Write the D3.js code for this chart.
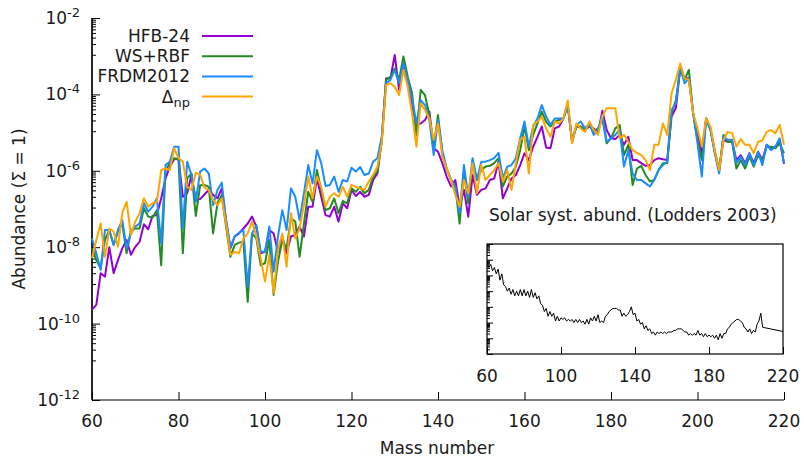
<!DOCTYPE html>
<html><head><meta charset="utf-8">
<script src="https://cdn.jsdelivr.net/npm/d3@7"></script>
<style>
body{margin:0;background:#fff}
text{font-family:"DejaVu Sans",sans-serif;fill:#1a1a1a}
</style>
</head><body>
<svg id="chart" width="804" height="458"></svg>
<script>
// ---------- DATA (log10 of abundance, mass numbers 60..220) ----------
const massNumbers = d3.range(60, 221);
const seriesNames = ["HFB-24", "WS+RBF", "FRDM2012", "Δnp"];
const hfb24Exp = [
-9.63,-9.51,-8.68,-8.77,-8.00,-8.68,-8.34,-8.03,-7.81,-8.20,
-7.99,-7.86,-7.40,-7.53,-7.18,-7.16,-6.72,-6.20,-5.89,-5.70,
-5.67,-6.68,-6.59,-6.11,-6.76,-6.74,-6.62,-6.50,-6.63,-6.72,
-6.46,-7.29,-8.03,-7.72,-7.64,-7.51,-7.38,-7.20,-7.46,-8.16,
-8.12,-7.55,-7.64,-8.12,-7.72,-8.16,-7.72,-7.68,-7.46,-7.72,
-6.94,-6.94,-6.20,-6.68,-7.16,-7.20,-6.94,-7.33,-6.85,-6.98,
-6.50,-6.66,-6.55,-6.68,-6.63,-6.24,-6.07,-5.19,-3.58,-3.58,
-2.97,-3.88,-3.23,-3.67,-4.28,-4.80,-4.76,-4.67,-4.45,-5.40,
-5.50,-5.80,-6.15,-6.41,-6.24,-6.94,-6.50,-7.20,-6.11,-6.63,
-6.50,-6.46,-6.24,-6.20,-5.76,-6.72,-6.46,-6.20,-6.11,-5.85,
-5.54,-5.72,-5.37,-5.11,-4.84,-5.39,-5.41,-4.89,-4.84,-4.63,
-4.28,-5.19,-4.84,-4.84,-4.93,-4.84,-4.89,-5.02,-4.43,-4.93,
-5.15,-5.17,-5.06,-5.32,-5.11,-5.72,-5.72,-5.80,-5.87,-5.85,
-5.72,-5.67,-5.70,-5.72,-4.58,-4.36,-3.32,-3.58,-3.58,-4.50,
-5.02,-5.54,-4.63,-4.89,-5.50,-5.98,-5.19,-5.24,-5.24,-5.72,
-5.59,-5.80,-5.54,-5.80,-5.50,-5.72,-5.32,-5.41,-5.37,-5.19,-5.82];
const wsrbfExp = [
-8.03,-8.34,-8.55,-7.81,-7.55,-7.94,-7.59,-7.38,-8.16,-7.55,
-7.51,-7.51,-6.98,-7.20,-7.22,-7.03,-8.47,-5.98,-5.80,-5.67,
-5.71,-8.16,-6.20,-6.07,-7.18,-6.38,-6.37,-6.42,-7.64,-6.85,
-6.63,-7.46,-8.25,-7.94,-7.88,-7.86,-9.43,-7.64,-7.77,-8.47,
-8.42,-7.81,-9.25,-8.38,-7.81,-8.03,-7.24,-7.33,-8.25,-7.38,
-6.55,-6.81,-5.98,-6.50,-7.03,-6.98,-6.72,-7.11,-6.79,-6.85,
-6.46,-6.55,-6.42,-6.59,-6.50,-6.15,-6.02,-5.19,-3.62,-3.54,
-3.32,-3.62,-3.01,-3.54,-3.97,-5.07,-3.88,-4.02,-4.54,-5.40,
-4.54,-5.54,-5.94,-6.24,-6.41,-7.38,-6.02,-6.85,-5.72,-6.24,
-5.98,-5.89,-5.87,-5.80,-5.67,-6.41,-6.15,-6.07,-5.89,-5.46,
-4.84,-5.46,-5.06,-4.76,-4.45,-4.72,-4.84,-4.71,-4.67,-4.63,
-4.28,-5.24,-4.84,-4.84,-4.93,-4.80,-4.98,-4.89,-4.63,-5.28,
-5.15,-4.89,-4.80,-5.59,-5.32,-6.37,-5.94,-5.87,-6.11,-6.28,
-6.24,-5.98,-5.80,-5.80,-4.50,-4.15,-3.36,-3.62,-3.36,-4.50,
-5.19,-5.72,-4.63,-4.93,-5.50,-5.98,-5.06,-5.24,-5.24,-5.94,
-5.72,-5.94,-5.63,-5.89,-5.59,-5.72,-5.37,-5.37,-5.41,-5.28,-5.54];
const frdm2012Exp = [
-7.77,-8.16,-8.60,-7.55,-7.55,-7.94,-7.55,-7.29,-8.03,-7.64,
-7.46,-7.38,-6.85,-7.07,-6.94,-6.72,-7.90,-5.85,-5.76,-5.37,
-5.37,-7.51,-5.76,-6.11,-6.81,-6.02,-5.94,-6.07,-6.90,-6.50,
-6.31,-7.29,-7.99,-7.71,-7.62,-7.55,-9.03,-7.64,-7.42,-8.12,
-8.12,-7.46,-8.64,-7.72,-7.03,-7.55,-6.46,-6.68,-7.29,-6.59,
-5.85,-6.33,-5.46,-5.80,-6.40,-6.37,-6.15,-6.55,-6.24,-6.28,
-5.92,-6.02,-5.90,-6.11,-6.07,-5.76,-5.67,-5.11,-3.71,-3.62,
-3.36,-3.71,-3.19,-3.62,-4.10,-4.76,-4.15,-4.28,-4.67,-5.59,
-4.67,-5.46,-5.94,-6.24,-6.41,-7.11,-5.85,-6.68,-5.67,-6.24,
-5.76,-5.76,-5.72,-5.67,-5.53,-6.20,-5.89,-5.85,-5.67,-5.15,
-4.71,-5.37,-4.84,-4.63,-4.28,-4.58,-4.80,-4.63,-4.63,-4.63,
-4.28,-5.24,-4.80,-4.71,-4.89,-4.76,-5.06,-4.93,-4.54,-5.24,
-5.15,-5.06,-4.93,-5.89,-5.46,-6.07,-6.24,-6.24,-6.33,-6.41,
-6.24,-5.98,-5.85,-5.76,-4.41,-4.23,-3.27,-3.71,-3.58,-4.50,
-5.28,-6.15,-4.67,-4.93,-5.54,-6.07,-5.11,-5.19,-5.19,-5.80,
-5.63,-5.85,-5.54,-5.85,-5.50,-5.85,-5.32,-5.46,-5.37,-5.15,-5.80];
const deltaNpExp = [
-8.29,-7.81,-7.38,-8.25,-7.51,-7.59,-7.99,-7.10,-6.81,-7.68,
-7.33,-7.11,-6.72,-6.94,-6.85,-6.81,-5.98,-5.94,-5.98,-5.41,
-5.67,-5.76,-6.42,-6.50,-6.05,-6.10,-6.44,-6.50,-6.76,-6.90,
-6.72,-7.38,-8.20,-8.12,-8.16,-7.77,-7.64,-7.33,-7.72,-8.29,
-8.90,-8.20,-9.21,-8.07,-7.64,-8.51,-7.11,-7.77,-7.51,-6.90,
-6.15,-6.72,-6.15,-6.42,-6.94,-6.68,-6.59,-6.68,-6.42,-6.68,
-6.37,-6.42,-6.46,-6.50,-6.28,-6.11,-5.89,-5.28,-3.75,-3.71,
-3.80,-4.02,-3.36,-3.80,-4.50,-5.37,-4.23,-4.41,-4.63,-5.19,
-4.76,-5.63,-5.94,-6.24,-6.63,-6.94,-6.24,-6.59,-5.80,-6.59,
-5.85,-6.24,-6.11,-5.98,-5.80,-6.28,-5.98,-6.50,-5.80,-5.19,
-5.11,-6.07,-4.80,-4.71,-4.58,-4.89,-5.11,-4.71,-4.76,-4.63,
-4.16,-5.28,-4.76,-4.89,-4.98,-4.71,-4.93,-5.06,-4.58,-4.36,
-4.36,-4.36,-5.15,-5.06,-5.24,-5.46,-5.53,-5.59,-5.72,-5.98,
-5.32,-5.32,-4.76,-5.06,-3.97,-3.62,-3.19,-3.58,-3.62,-4.50,
-4.89,-5.37,-4.63,-4.84,-5.46,-5.98,-5.19,-4.98,-5.02,-5.37,
-5.17,-5.32,-5.32,-5.54,-5.24,-5.21,-4.98,-4.93,-5.02,-4.80,-5.32];

// Inset: solar system abundances (Lodders 2003), log10, relative scale
const solarMass = d3.range(60, 210).concat([232]);
const solarExp = [
-3.1,-3.5,-3.3,-3.7,-3.5,-3.9,-3.6,-4.3,-3.9,-4.6,
-4.7,-5.0,-4.8,-5.2,-4.9,-5.3,-5.0,-5.3,-4.9,-5.3,
-4.9,-5.3,-5.0,-5.4,-4.9,-5.4,-5.1,-5.5,-5.3,-5.8,
-5.9,-6.3,-6.1,-6.6,-6.3,-6.6,-6.4,-6.9,-6.6,-6.9,
-6.7,-6.8,-6.7,-6.9,-6.8,-6.9,-6.8,-7.0,-6.8,-7.0,
-6.8,-7.0,-6.9,-7.1,-6.8,-7.1,-6.7,-6.9,-6.6,-6.9,
-6.5,-7.0,-6.9,-7.0,-6.6,-6.5,-6.3,-6.2,-6.1,-6.1,
-6.1,-6.2,-6.2,-6.6,-6.4,-6.6,-6.5,-6.3,-6.0,-6.5,
-6.4,-6.9,-6.8,-7.1,-7.0,-7.4,-7.2,-7.5,-7.4,-7.7,
-7.6,-7.8,-7.6,-7.7,-7.6,-7.7,-7.6,-7.7,-7.6,-7.6,
-7.6,-7.5,-7.5,-7.4,-7.4,-7.4,-7.5,-7.6,-7.6,-7.8,
-7.7,-7.8,-7.7,-7.8,-7.5,-7.8,-7.7,-7.9,-7.7,-7.9,
-7.8,-7.9,-7.8,-8.0,-7.8,-8.1,-7.7,-8.0,-7.7,-7.7,
-7.4,-7.3,-7.1,-7.0,-6.9,-6.8,-6.8,-6.9,-7.0,-7.3,
-7.4,-7.6,-7.4,-7.7,-7.5,-7.6,-7.1,-6.9,-6.4,-7.3,
-7.86];

const xTickValues = [60, 80, 100, 120, 140, 160, 180, 200, 220];
const yTickExponents = [-12, -10, -8, -6, -4, -2];
const insetXTickValues = [60, 100, 140, 180, 220];
const seriesColors = ["#9400d3", "#228b22", "#1a8cff", "#ffa500"];

// ---------- BUILD ----------
const FS = 17;
const toAbund = e => Math.pow(10, e);
const seriesExp = [hfb24Exp, wsrbfExp, frdm2012Exp, deltaNpExp];
const series = seriesExp.map((arr, i) => ({
  name: seriesNames[i], color: seriesColors[i],
  values: massNumbers.map((A, j) => ({A, v: toAbund(arr[j])}))
}));
const solar = solarMass.map((A, j) => ({A, v: toAbund(solarExp[j])}));

const svg = d3.select("#chart");
const L = 92, R = 784, T = 18, B = 400;
const x = d3.scaleLinear().domain([60, 220]).range([L, R]);
const y = d3.scaleLog().domain([1e-12, 1e-2]).range([B, T]);

// Minor y ticks (linear subdivisions between majors, gnuplot style)
const majorVals = yTickExponents.map(toAbund);
const minorVals = [];
for (let i = 0; i < majorVals.length - 1; i++) {
  const lo = majorVals[i], hi = majorVals[i + 1];
  for (let k = 1; k < 10; k++) minorVals.push(lo + k * (hi - lo) / 10);
}

const gY = svg.append("g").attr("transform", `translate(${L},0)`);
gY.call(d3.axisLeft(y).tickValues(majorVals).tickSize(-8).tickFormat(""));
gY.call(g => g.append("g").call(d3.axisLeft(y).tickValues(minorVals).tickSize(-4).tickFormat("")));
gY.selectAll("path.domain").attr("d", `M0,${B}V${T}`).attr("stroke", "#000").attr("stroke-width", 1.2);
gY.selectAll(".tick line").attr("stroke", "#000");

const gX = svg.append("g").attr("transform", `translate(0,${B})`);
gX.call(d3.axisBottom(x).tickValues(xTickValues).tickSize(-8).tickFormat(""));
gX.select("path.domain").attr("d", `M${L},0H${R}`).attr("stroke", "#000").attr("stroke-width", 1.2);
gX.selectAll(".tick line").attr("stroke", "#000");

// x tick labels
svg.append("g").selectAll("text").data(xTickValues).join("text")
  .attr("x", d => x(d)).attr("y", 427).attr("text-anchor", "middle")
  .attr("font-size", FS).text(d => d);

// y tick labels 10^n
const yl = svg.append("g").selectAll("text").data(yTickExponents).join("text")
  .attr("x", 80).attr("y", d => y(toAbund(d)) + 6).attr("text-anchor", "end").attr("font-size", FS);
yl.append("tspan").text("10");
yl.append("tspan").attr("dy", -7).attr("font-size", 13).text(d => d);

// Axis titles
svg.append("text").attr("x", 437).attr("y", 454).attr("text-anchor", "middle")
  .attr("font-size", FS).text("Mass number");
svg.append("text").attr("transform", "translate(25,209) rotate(-90)")
  .attr("text-anchor", "middle").attr("font-size", FS).text("Abundance (Σ = 1)");

// Lines
const line = d3.line().x(d => x(d.A)).y(d => y(d.v));
svg.append("g").selectAll("path").data(series).join("path")
  .attr("d", d => line(d.values)).attr("fill", "none")
  .attr("stroke", d => d.color).attr("stroke-width", 2).attr("stroke-linejoin", "round");

// Legend
const leg = svg.append("g");
series.forEach((s, i) => {
  const ly = 36 + i * 20.2;
  leg.append("line").attr("x1", 202).attr("x2", 253).attr("y1", ly).attr("y2", ly)
    .attr("stroke", s.color).attr("stroke-width", 2);
  const t = leg.append("text").attr("x", 190).attr("y", ly + 6).attr("text-anchor", "end").attr("font-size", FS);
  if (s.name === "Δnp") {
    t.append("tspan").text("Δ");
    t.append("tspan").attr("dy", 4).attr("font-size", 13).text("np");
  } else t.text(s.name);
});

// ---------- INSET ----------
const iL = 487, iR = 783, iT = 244, iB = 354;
const xi = d3.scaleLinear().domain([60, 220]).range([iL, iR]);
const yi = d3.scaleLog().domain([1e-9, 1e-2]).range([iB, iT]);
svg.append("text").attr("x", 489).attr("y", 221).attr("font-size", FS)
  .text("Solar syst. abund. (Lodders 2003)");
svg.append("clipPath").attr("id", "iclip").append("rect")
  .attr("x", iL).attr("y", iT).attr("width", iR - iL).attr("height", iB - iT);
const lineI = d3.line().x(d => xi(d.A)).y(d => yi(d.v));
svg.append("path").attr("d", lineI(solar)).attr("clip-path", "url(#iclip)")
  .attr("fill", "none").attr("stroke", "#000").attr("stroke-width", 1);
// inset ticks
const iMaj = d3.range(-9, -1).map(toAbund);
const iMin = [];
for (let e = -9; e < -2; e++) for (let k = 2; k < 10; k++) iMin.push(k * toAbund(e));
const giy = svg.append("g").attr("transform", `translate(${iL},0)`);
giy.call(d3.axisLeft(yi).tickValues(iMaj).tickSize(-6).tickFormat(""));
giy.append("g").call(d3.axisLeft(yi).tickValues(iMin).tickSize(-3).tickFormat(""));
giy.selectAll("path.domain").remove();
const gix = svg.append("g").attr("transform", `translate(0,${iB})`);
gix.call(d3.axisBottom(xi).tickValues(insetXTickValues).tickSize(-7).tickFormat(""));
gix.select("path.domain").remove();
svg.selectAll(".tick line").attr("stroke", "#000");
svg.append("rect").attr("x", iL).attr("y", iT).attr("width", iR - iL).attr("height", iB - iT)
  .attr("fill", "none").attr("stroke", "#000").attr("stroke-width", 1.2);
svg.append("g").selectAll("text").data(insetXTickValues).join("text")
  .attr("x", d => xi(d)).attr("y", 382).attr("text-anchor", "middle").attr("font-size", FS).text(d => d);
</script>
</body></html>
